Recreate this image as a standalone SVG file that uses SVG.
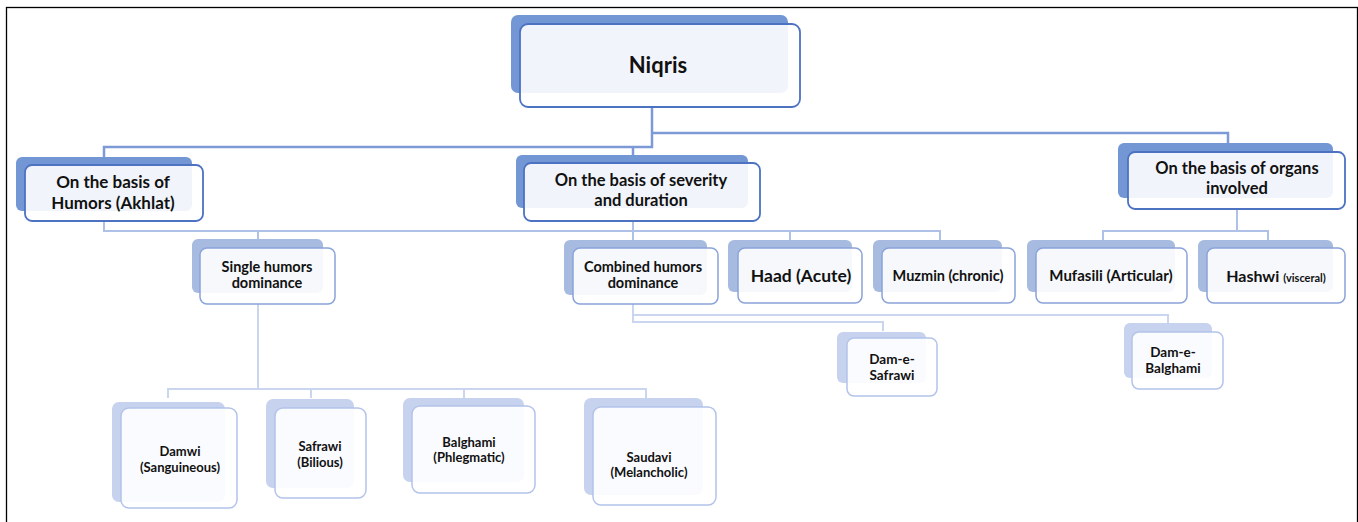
<svg xmlns="http://www.w3.org/2000/svg" width="1358" height="522" viewBox="0 0 1358 522">
<style>
.frame{fill:none;stroke:#000;stroke-width:1.3}
.sh1{fill:#7396d4}
.sh2{fill:#a7badf}
.sh3{fill:#c7d2ee}
.fr{fill:#fff;fill-opacity:0.9}
.b1{stroke:#4d72c2;stroke-width:1.8}
.b2{stroke:#8aa3da;stroke-width:1.5}
.b3{stroke:#b3c3ea;stroke-width:1.5}
text{font-family:Lato,"Liberation Sans",Arial,sans-serif;font-weight:bold;fill:#111;text-anchor:middle}
.c1{fill:none;stroke:#7d9ad6;stroke-width:2.5}
.c2{fill:none;stroke:#b0c1e8;stroke-width:2}
.c3{fill:none;stroke:#cad5ef;stroke-width:2}
</style>
<rect class="frame" x="6.5" y="7.5" width="1351" height="600"/>
<g id="connectors">
<path class="c1" d="M652 107 V147 H104 V157"/>
<path class="c1" d="M633 147 V155"/>
<path class="c1" d="M652 133 H1228 V143"/>
<path class="c2" d="M104 221 V231 H940 V240"/>
<path class="c2" d="M258 231 V239"/>
<path class="c2" d="M633 221 V240"/>
<path class="c2" d="M790 231 V240"/>
<path class="c2" d="M1237 209 V231"/>
<path class="c2" d="M1103 240 V231 H1268 V240"/>
<path class="c3" d="M258 304 V389 H168 V398"/>
<path class="c3" d="M258 389 H646 V398"/>
<path class="c3" d="M311 389 V398"/>
<path class="c3" d="M464 389 V398"/>
<path class="c3" d="M633 304 V322 H883 V331"/>
<path class="c3" d="M633 315 H1168 V323"/>
</g>
<g id="niqris">
<rect class="sh1" x="511" y="15" width="277" height="78" rx="7"/>
<rect class="fr b1" x="520" y="24" width="280" height="83" rx="8"/>
<text x="658" y="73" font-size="22">Niqris</text>
</g>
<g id="humors">
<rect class="sh1" x="16" y="157" width="176" height="54" rx="6"/>
<rect class="fr b1" x="25" y="165" width="178" height="56" rx="7"/>
<text x="113" y="188" font-size="17">On the basis of</text>
<text x="113" y="209" font-size="17">Humors  (Akhlat)</text>
</g>
<g id="severity">
<rect class="sh1" x="516" y="155" width="232" height="53" rx="6"/>
<rect class="fr b1" x="524" y="163" width="236" height="58" rx="7"/>
<text x="641" y="186" font-size="16.5">On the basis  of severity</text>
<text x="641" y="206" font-size="16.5">and duration</text>
</g>
<g id="organs">
<rect class="sh1" x="1118" y="143" width="215" height="55" rx="6"/>
<rect class="fr b1" x="1128" y="152" width="217" height="57" rx="7"/>
<text x="1237" y="174" font-size="16.5">On the basis of organs</text>
<text x="1237" y="194" font-size="16.5">involved</text>
</g>
<g id="single">
<rect class="sh2" x="192" y="239" width="131" height="54" rx="6"/>
<rect class="fr b2" x="200" y="248" width="135" height="56" rx="7"/>
<text x="267" y="272" font-size="14.5">Single humors</text>
<text x="267" y="288" font-size="14.5">dominance</text>
</g>
<g id="combined">
<rect class="sh2" x="564" y="240" width="143" height="55" rx="6"/>
<rect class="fr b2" x="573" y="248" width="145" height="56" rx="7"/>
<text x="643" y="272" font-size="14.5">Combined humors</text>
<text x="643" y="288" font-size="14.5">dominance</text>
</g>
<g id="haad">
<rect class="sh2" x="728" y="240" width="124" height="52" rx="6"/>
<rect class="fr b2" x="738" y="248" width="124" height="55" rx="7"/>
<text x="801" y="282" font-size="17.5">Haad (Acute)</text>
</g>
<g id="muzmin">
<rect class="sh2" x="873" y="240" width="129" height="52" rx="6"/>
<rect class="fr b2" x="882" y="248" width="133" height="55" rx="7"/>
<text x="948" y="281" font-size="14.5">Muzmin (chronic)</text>
</g>
<g id="mufasili">
<rect class="sh2" x="1027" y="240" width="148" height="52" rx="6"/>
<rect class="fr b2" x="1036" y="248" width="151" height="55" rx="7"/>
<text x="1111" y="281" font-size="15">Mufasili (Articular)</text>
</g>
<g id="hashwi">
<rect class="sh2" x="1198" y="240" width="135" height="52" rx="6"/>
<rect class="fr b2" x="1207" y="248" width="138" height="55" rx="7"/>
<text x="1276" y="282" font-size="16">Hashwi <tspan font-size="11">(visceral)</tspan></text>
</g>
<g id="dam-e-safrawi">
<rect class="sh3" x="837" y="332" width="89" height="51" rx="6"/>
<rect class="fr b3" x="847" y="338" width="90" height="58" rx="7"/>
<text x="892" y="364" font-size="13.5">Dam-e-</text>
<text x="892" y="380" font-size="13.5">Safrawi</text>
</g>
<g id="dam-e-balghami">
<rect class="sh3" x="1124" y="323" width="88" height="55" rx="6"/>
<rect class="fr b3" x="1132" y="332" width="91" height="57" rx="7"/>
<text x="1173" y="357" font-size="13.5">Dam-e-</text>
<text x="1173" y="373" font-size="13.5">Balghami</text>
</g>
<g id="damwi">
<rect class="sh3" x="112" y="402" width="113" height="100" rx="7"/>
<rect class="fr b3" x="121" y="408" width="116" height="100" rx="8"/>
<text x="180" y="456" font-size="13">Damwi</text>
<text x="180" y="472" font-size="13">(Sanguineous)</text>
</g>
<g id="safrawi">
<rect class="sh3" x="266" y="399" width="88" height="89" rx="7"/>
<rect class="fr b3" x="275" y="408" width="91" height="90" rx="8"/>
<text x="320" y="451" font-size="13">Safrawi</text>
<text x="320" y="467" font-size="13">(Bilious)</text>
</g>
<g id="balghami">
<rect class="sh3" x="403" y="398" width="121" height="84" rx="7"/>
<rect class="fr b3" x="412" y="406" width="123" height="87" rx="8"/>
<text x="469" y="447" font-size="13">Balghami</text>
<text x="469" y="462" font-size="13">(Phlegmatic)</text>
</g>
<g id="saudavi">
<rect class="sh3" x="584" y="398" width="119" height="97" rx="7"/>
<rect class="fr b3" x="593" y="407" width="123" height="98" rx="8"/>
<text x="649" y="462" font-size="13">Saudavi</text>
<text x="649" y="477" font-size="13">(Melancholic)</text>
</g>
</svg>
